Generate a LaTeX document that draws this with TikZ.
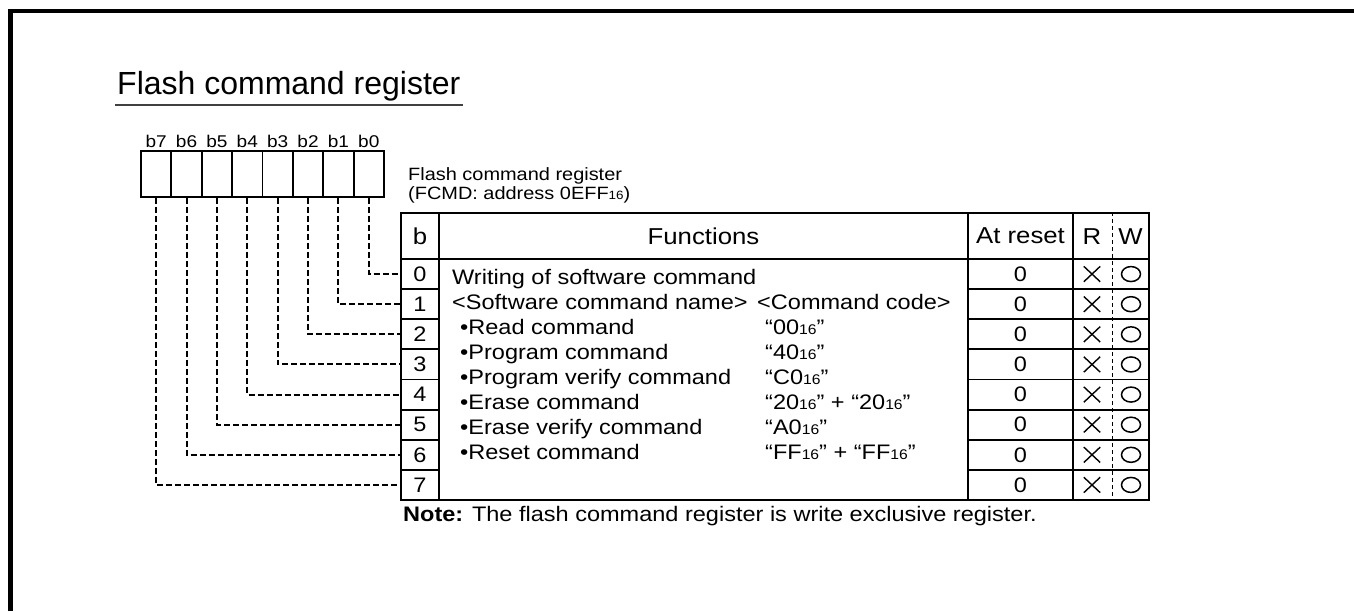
\documentclass[tikz,border=0pt]{standalone}
\usepackage{fontspec}
\setmainfont{Liberation Sans}
\newfontfamily\wf{Liberation Sans}[FakeStretch=1.12]
\usetikzlibrary{shapes.misc,shapes.geometric}
\newcommand\sxt[1]{{\fontsize{#1}{#1}\selectfont 16}}
\tikzset{
 bodyfont/.style={font=\wf\fontsize{21}{24}\selectfont},
 hdr/.style={font=\wf\fontsize{23}{26}\selectfont},
 lbl/.style={font=\wf\fontsize{17.8}{20}\selectfont},
 txt/.style={inner sep=0pt, anchor=base west},
 tline/.style={line width=1.8pt},
 bitbox/.style={draw, tline, minimum width=30.375pt, minimum height=46pt, inner sep=0pt},
 bitlbl/.style={font=\wf\fontsize{17}{20}\selectfont, inner sep=0pt, anchor=base},
 bcell/.style={draw, tline, bodyfont, minimum width=38pt, minimum height=30.125pt, inner sep=0pt},
 zcell/.style={draw, tline, bodyfont, minimum width=105pt, minimum height=30.125pt, inner sep=0pt},
 rwcell/.style={draw, tline, minimum width=76pt, minimum height=30.125pt, inner sep=0pt},
 hcell/.style={draw, tline, hdr, minimum height=46pt, inner sep=0pt},
 xmark/.style={cross out, draw, line width=1.4pt, minimum width=15pt, minimum height=14pt, inner sep=0pt},
 omark/.style={ellipse, draw, line width=1.5pt, minimum width=19pt, minimum height=15pt, inner sep=0pt},
 conn/.style={line width=2pt, dash pattern=on 6pt off 3pt},
 divider/.style={line width=1pt, dash pattern=on 4pt off 3pt},
}
\begin{document}
\begin{tikzpicture}[x=1pt,y=-1pt]
\useasboundingbox (0,0) rectangle (1354,611);
% frame
\draw[line width=4.5pt] (10.5,611) -- (10.5,11) -- (1354,11);
% title
\node[txt, font=\fontsize{32}{36}\selectfont] (title) at (117,94.5) {Flash command register};
\draw[line width=1.5pt, black!75] (115,105) -- (463,105);
% register label
\node[txt, lbl] (reg1) at (408,180.5) {Flash command register};
\node[txt, lbl] (reg2) at (408,199.5) {(FCMD: address 0EFF\sxt{12})};
% header
\node[hcell, minimum width=38pt] (hb) at (420,236) {b};
\node[hcell, minimum width=529pt] (hf) at (703.5,236) {Functions};
\node[hcell, minimum width=105pt] (hr) at (1020.5,236) {At reset};
\node[hcell, minimum width=76pt] (hrw) at (1111,236) {};
\node[hdr, inner sep=0pt, anchor=base] (hR) at (1092,244) {R};
\node[hdr, inner sep=0pt, anchor=base] (hW) at (1130.5,244) {W};
% functions body cell
\node[draw, tline, minimum width=529pt, minimum height=241pt, inner sep=0pt] (fb) at (703.5,379.5) {};
% rows
\foreach \i in {0,...,7} {
  \pgfmathsetmacro\cx{368.8-30.375*\i}
  \pgfmathsetmacro\yc{274.06+30.125*\i}
  \node[bitbox] (bit\i) at (\cx,174) {};
  \node[bitlbl] (bl\i) at (\cx,147) {b\i};
  \node[bcell] (r\i) at (420,\yc) {\i};
  \node[zcell] (z\i) at (1020.5,\yc) {0};
  \node[rwcell] (rw\i) at (1111,\yc) {};
  \node[xmark] (x\i) at (1092,\yc) {};
  \node[omark] (o\i) at (1131,\yc) {};
  \draw[conn] (bit\i.south) |- (r\i.west);
}
\draw[divider] (hrw.north -| 1112,0) -- (rw7.south -| 1112,0);
% functions text
\begin{scope}[every node/.style={txt, bodyfont}]
\node (f0) at (452,284) {Writing of software command};
\node (f1) at (452,309) {<Software command name>};
\node (c1) at (757,309) {<Command code>};
\node (f2) at (460,334) {•Read command};
\node (c2) at (765,334) {“00\sxt{14}”};
\node (f3) at (460,359) {•Program command};
\node (c3) at (765,359) {“40\sxt{14}”};
\node (f4) at (460,384) {•Program verify command};
\node (c4) at (765,384) {“C0\sxt{14}”};
\node (f5) at (460,409) {•Erase command};
\node (c5) at (765,409) {“20\sxt{14}” + “20\sxt{14}”};
\node (f6) at (460,434) {•Erase verify command};
\node (c6) at (765,434) {“A0\sxt{14}”};
\node (f7) at (460,459) {•Reset command};
\node (c7) at (765,459) {“FF\sxt{14}” + “FF\sxt{14}”};
\node (note) at (403,521) {\textbf{Note:} The flash command register is write exclusive register.};
\end{scope}
\end{tikzpicture}
\end{document}
